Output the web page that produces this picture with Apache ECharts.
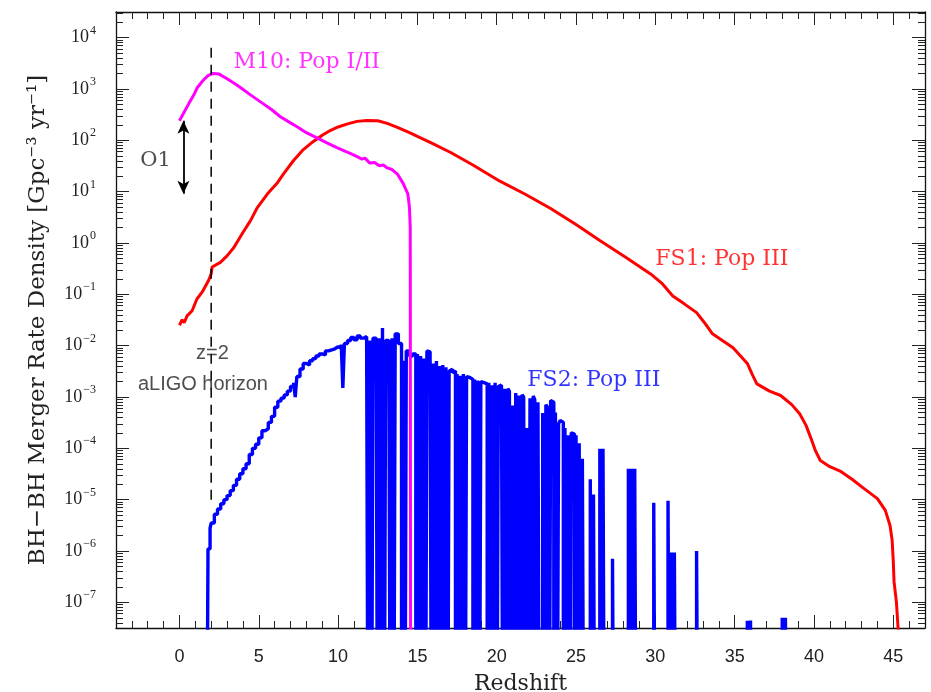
<!DOCTYPE html>
<html><head><meta charset="utf-8">
<script src="https://cdn.jsdelivr.net/npm/echarts@6/dist/echarts.min.js"></script>
<style>html,body{margin:0;padding:0;background:#fff}#c{width:931px;height:692px}</style>
</head><body><div id="c"></div>
<script>
// ---------- axis ticks ----------
const xMajor = [0,5,10,15,20,25,30,35,40,45];
const xMinor = [-3,-2,-1,1,2,3,4,6,7,8,9,11,12,13,14,16,17,18,19,21,22,23,24,26,27,28,29,31,32,33,34,36,37,38,39,41,42,43,44,46];
const yDecades = [-7,-6,-5,-4,-3,-2,-1,0,1,2,3,4];

// ---------- data: [redshift, BH-BH merger rate density (Gpc^-3 yr^-1)] ----------
const m10 = [
  [0,240],[0.3,355],[0.6,525],[0.9,760],[1.13,1070],[1.5,1480],[1.8,1820],[2.08,2000],
  [2.5,1950],[3.0,1580],[3.5,1260],[3.84,1070],[4.5,760],[5.29,513],[5.8,398],[6.36,288],
  [7.0,219],[7.44,182],[8.0,141],[8.7,110],[9.3,89],[9.96,71],[10.5,60],[10.8,55],
  [11.2,48],[11.5,43],[11.7,45],[12.0,36],[12.3,37],[12.6,32],[12.85,33],[13.1,29],
  [13.4,27],[13.74,22],[14.1,14.5],[14.4,9.1],[14.5,4.9],[14.55,2.0],[14.58,0]
];
const fs1 = [
  [0,0.025],[0.17,0.032],[0.3,0.028],[0.48,0.038],[0.8,0.048],[1.1,0.081],[1.43,0.11],
  [1.85,0.19],[2.0,0.25],[2.06,0.34],[2.58,0.42],[3.0,0.56],[3.42,0.81],[4.0,1.6],
  [4.47,2.7],[4.91,4.9],[5.55,9.1],[6.18,15],[6.55,22],[7.18,40],[7.81,66],[8.4,93],
  [9.0,126],[9.5,155],[10.0,182],[10.6,209],[11.2,234],[11.8,243],[12.5,240],[13.1,214],
  [13.74,178],[14.5,141],[15.2,112],[16.0,85],[17.1,58],[18.5,33],[20.2,16],[21.8,8.9],
  [23.4,4.7],[25.0,2.3],[26.5,1.12],[28.2,0.51],[29.7,0.25],[30.4,0.166],[31.1,0.093],
  [31.8,0.066],[32.6,0.044],[33.1,0.028],[33.6,0.017],[34.9,0.0091],[35.8,0.0045],
  [36.1,0.0028],[36.4,0.0018],[37.2,0.0013],[37.9,0.00107],[38.6,7.1e-4],[39.1,4.7e-4],
  [39.5,2.8e-4],[39.8,1.6e-4],[40.1,8.9e-5],[40.4,5.8e-5],[41.0,4.4e-5],[41.65,3.6e-5],
  [42.4,2.5e-5],[43.1,1.7e-5],[44.0,1.05e-5],[44.5,6.2e-6],[44.8,3.1e-6],[44.93,1.6e-6],
  [45.0,6.3e-7],[45.05,2.5e-7],[45.2,1.0e-7],[45.3,3.2e-8],[45.35,0]
];
// histogram bins (left edge, value); 0 = empty bin
const fs2 = [
  [1.7,0],[1.8,1.1e-6],[1.93,2.8e-6],[2.0,3.5e-6],[2.2,5.2e-6],[2.4,6.6e-6],[2.6,8.3e-6],
  [2.8,1.0e-5],[3.0,1.2e-5],[3.2,1.5e-5],[3.4,1.9e-5],[3.6,2.5e-5],[3.8,3.2e-5],[4.0,4.0e-5],
  [4.2,5.0e-5],[4.4,7.6e-5],[4.6,1.0e-4],[4.8,1.2e-4],[5.0,1.6e-4],[5.2,2.2e-4],[5.4,2.4e-4],
  [5.6,3.2e-4],[5.8,4.2e-4],[6.0,6.3e-4],[6.2,8.3e-4],[6.4,9.5e-4],[6.6,1.1e-3],[6.8,1.3e-3],
  [7.0,1.6e-3],[7.2,1.9e-3],[7.3,1.0e-3],[7.4,2.5e-3],[7.6,3.5e-3],[7.8,4.5e-3],[8.0,4.2e-3],
  [8.2,5.1e-3],[8.4,5.6e-3],[8.6,6.3e-3],[8.8,6.9e-3],[9.0,6.6e-3],[9.2,7.9e-3],[9.4,8.3e-3],
  [9.6,8.7e-3],[9.8,9.5e-3],[10.0,9.1e-3],[10.2,1.05e-2],[10.3,1.5e-3],[10.4,1.1e-2],
  [10.6,1.26e-2],[10.8,1.45e-2],[11.0,1.3e-2],[11.2,1.55e-2],[11.4,1.4e-2],[11.6,1.5e-2],
  [11.8,1.3e-2],[11.9,0],[12.0,1.26e-2],[12.1,0],[12.2,1.4e-2],[12.4,1.3e-2],[12.5,0],
  [12.6,1.4e-2],[12.7,0],[12.8,2.2e-2],[12.9,0],[13.0,1.26e-2],[13.2,1.1e-2],[13.3,0],
  [13.4,1.4e-2],[13.5,0],[13.6,1.7e-2],[13.8,1.1e-2],[14.0,0],[14.1,5.1e-3],[14.2,0],
  [14.3,7.9e-3],[14.5,6.3e-3],[14.7,6.9e-3],[14.9,0],[15.0,6.9e-3],[15.1,0],[15.2,6.3e-3],
  [15.3,0],[15.4,5.6e-3],[15.5,0],[15.6,7.9e-3],[15.7,7.6e-3],[15.8,6.3e-3],[15.9,0],
  [16.0,4.5e-3],[16.1,0],[16.2,5.0e-3],[16.3,0],[16.4,4.0e-3],[16.5,0],[16.6,4.2e-3],
  [16.7,0],[16.8,3.8e-3],[16.9,0],[17.0,3.2e-3],[17.1,3.5e-3],[17.2,3.0e-3],[17.3,3.2e-3],
  [17.4,0],[17.5,2.8e-3],[17.6,0],[17.7,2.6e-3],[17.8,0],[17.9,2.8e-3],[18.0,0],
  [18.1,2.5e-3],[18.2,2.4e-3],[18.3,2.6e-3],[18.4,2.2e-3],[18.5,0],[18.6,2.2e-3],[18.7,0],
  [18.8,2.1e-3],[18.9,0],[19.0,2.0e-3],[19.1,1.9e-3],[19.2,2.0e-3],[19.3,1.8e-3],[19.4,0],
  [19.5,1.9e-3],[19.6,0],[19.7,1.7e-3],[19.8,0],[19.9,1.9e-3],[20.0,0],[20.1,1.6e-3],
  [20.2,1.7e-3],[20.3,1.5e-3],[20.4,0],[20.5,1.45e-3],[20.6,0],[20.7,1.45e-3],[20.8,1.3e-3],
  [20.9,0],[21.0,6.8e-4],[21.1,0],[21.2,1.2e-3],[21.3,0],[21.4,1.07e-3],[21.5,0],
  [21.6,1.1e-3],[21.7,1.0e-3],[21.8,0],[21.9,2.5e-4],[22.0,0],[22.1,9.5e-4],[22.2,0],
  [22.3,1.05e-3],[22.4,8.9e-4],[22.5,0],[22.6,7.9e-4],[22.7,0],[22.9,4.9e-4],[23.0,0],
  [23.1,7.1e-4],[23.2,6.3e-4],[23.3,0],[23.4,8.5e-4],[23.5,7.9e-4],[23.6,0],[23.7,5.0e-4],
  [23.8,0],[23.9,3.0e-4],[24.0,3.5e-4],[24.1,3.2e-4],[24.2,0],[24.3,2.5e-4],[24.4,0],
  [24.5,1.8e-4],[24.6,0],[24.7,2.0e-4],[24.8,1.9e-4],[24.9,0],[25.0,1.8e-4],[25.1,0],
  [25.2,1.26e-4],[25.3,0],[25.4,6.3e-5],[25.5,0],[25.9,2.5e-5],[26.0,0],[26.1,1.26e-5],
  [26.2,0],[26.5,9.8e-5],[26.6,0],[26.7,9.8e-5],[26.8,0],[27.3,7.1e-7],[27.4,0],
  [28.3,4.0e-5],[28.4,0],[28.5,4.0e-5],[28.6,0],[28.7,4.0e-5],[28.8,0],
  [29.9,8.7e-6],[30.0,0],[30.8,9.5e-6],[30.9,0],[31.0,9.3e-7],[31.1,0],[31.2,9.3e-7],[31.3,0],
  [32.6,1.0e-6],[32.7,0],[35.8,4.4e-8],[35.9,0],[36.0,4.4e-8],[36.1,0],
  [38.0,5.0e-8],[38.1,0],[38.2,5.0e-8],[38.3,0]
];
// reference marks
const horizon = [[2,1e-5],[2,6.5e3]];      // z = 2 aLIGO horizon
const o1Range = [[0.25,240],[0.25,9.1]];   // O1 rate range

// ---------- build ----------
const X_MIN = -4, X_MAX = 47, Y_MIN = -7.5, Y_MAX = 4.5;
const toY = r => r > 0 ? Math.log10(r) : -12;
const conv = arr => arr.map(p => [p[0], toY(p[1])]);
const yMinor = [];
for (let n = -8; n <= 4; n++) for (let k = 2; k <= 9; k++) {
  const v = n + Math.log10(k); if (v > Y_MIN && v < Y_MAX) yMinor.push(v);
}
const tickLine = {color:'#222', width:1};
const frame = {color:'#111', width:1.3};
function xAx(pos, ticks, len, line, labels) {
  return {type:'value', position:pos, min:X_MIN, max:X_MAX,
    axisLine:{show:line, onZero:false, lineStyle:frame},
    axisTick:{show:true, inside:true, length:len, customValues:ticks, lineStyle:tickLine},
    axisLabel: labels ? {show:true, customValues:xMajor, margin:20, fontFamily:'Liberation Sans', fontSize:18, color:'#222'} : {show:false},
    splitLine:{show:false}};
}
function yAx(pos, ticks, len, line, labels) {
  return {type:'value', position:pos, min:Y_MIN, max:Y_MAX,
    axisLine:{show:line, onZero:false, lineStyle:frame},
    axisTick:{show:true, inside:true, length:len, customValues:ticks, lineStyle:tickLine},
    axisLabel: labels ? {show:true, customValues:yDecades, margin:20,
      formatter: v => '{b|10}{s|' + (v < 0 ? '\u2212' + (-v) : v) + '}',
      rich:{b:{fontFamily:'Liberation Serif', fontSize:18, lineHeight:18, color:'#222', verticalAlign:'bottom'},
            s:{fontFamily:'Liberation Serif', fontSize:12, lineHeight:12, color:'#222', verticalAlign:'bottom', padding:[0,0,10,1]}}} : {show:false},
    splitLine:{show:false}};
}
const xAxes = [xAx('bottom', xMajor, 13, true, true), xAx('bottom', xMinor, 7, false, false),
               xAx('top', xMajor, 13, true, false), xAx('top', xMinor, 7, false, false)];
Object.assign(xAxes[0], {name:'Redshift', nameLocation:'middle', nameGap:45,
  nameTextStyle:{fontFamily:'DejaVu Serif', fontSize:22, color:'#222'}});
const yAxes = [yAx('left', yDecades, 13, true, true), yAx('left', yMinor, 7, false, false),
               yAx('right', yDecades, 13, true, false), yAx('right', yMinor, 7, false, false)];
Object.assign(yAxes[0], {name:'BH\u2212BH Merger Rate Density [Gpc\u207B\u00B3 yr\u207B\u00B9]',
  nameLocation:'middle', nameGap:66, nameRotate:90,
  nameTextStyle:{fontFamily:'DejaVu Serif', fontSize:23, color:'#222'}});

const annotations = [
  {text:'M10: Pop I/II', z:3.4, rate:3.3e3, color:'#ff00ff', font:'DejaVu Serif', size:22, left:true},
  {text:'FS1: Pop III', z:30.0, rate:0.49, color:'#ff0000', font:'DejaVu Serif', size:22, left:true},
  {text:'FS2: Pop III', z:21.93, rate:2.1e-3, color:'#0000ff', font:'DejaVu Serif', size:22, left:true},
  {text:'O1', z:-1.51, rate:40, color:'#222', font:'DejaVu Serif', size:21, left:false},
  {text:'z=2', z:2.08, rate:6.9e-3, color:'#222', font:'Liberation Sans', size:20, left:false},
  {text:'aLIGO horizon', z:1.48, rate:1.74e-3, color:'#222', font:'Liberation Sans', size:20, left:false}
];

const lineBase = {type:'line', showSymbol:false, symbol:'none', clip:true, xAxisIndex:0, yAxisIndex:0, silent:true};
const option = {
  animation:false,
  backgroundColor:'#fff',
  grid:{left:116, right:6, top:12, bottom:64, containLabel:false, outerBoundsMode:'none'},
  xAxis:xAxes, yAxis:yAxes,
  series:[
    Object.assign({}, lineBase, {name:'FS2: Pop III', data:conv(fs2), step:'end',
      lineStyle:{color:'#0000ff', width:3.4}, z:2}),
    Object.assign({}, lineBase, {name:'FS1: Pop III', data:conv(fs1),
      lineStyle:{color:'#ff0000', width:3}, z:3}),
    Object.assign({}, lineBase, {name:'M10: Pop I/II', data:conv(m10),
      lineStyle:{color:'#ff00ff', width:3}, z:4}),
    Object.assign({}, lineBase, {name:'horizon', data:conv(horizon),
      lineStyle:{color:'#000', width:1.5, type:[10,7]}, z:5}),
    Object.assign({}, lineBase, {name:'O1', data:[], z:6,
      markLine:{silent:true, symbol:['arrow','arrow'], symbolSize:[9,13], label:{show:false},
        lineStyle:{color:'#000', width:1.8, type:'solid'},
        data:[[{coord:conv(o1Range)[0]},{coord:conv(o1Range)[1]}]]}}),
    {type:'scatter', name:'labels', xAxisIndex:0, yAxisIndex:0, symbolSize:0, silent:true, z:10,
      itemStyle:{color:'transparent'},
      data:annotations.map(a => ({value:[a.z, toY(a.rate)], name:a.text,
        label:{show:true, formatter:'{b}', position:a.left ? 'right' : 'inside', distance:0,
          color:a.color, fontFamily:a.font, fontSize:a.size}}))}
  ]
};
const chart = echarts.init(document.getElementById('c'), null, {renderer:'canvas'});
chart.setOption(option);
</script></body></html>
